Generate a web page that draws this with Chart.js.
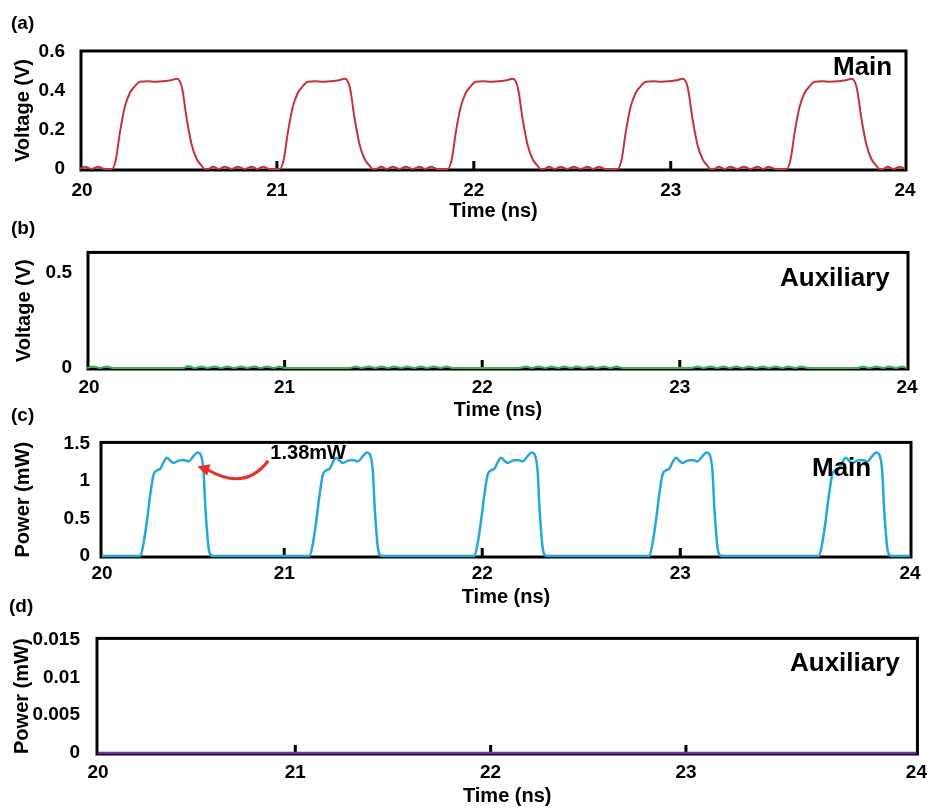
<!DOCTYPE html>
<html>
<head>
<meta charset="utf-8">
<script src="https://cdn.jsdelivr.net/npm/chart.js@4.4.1/dist/chart.umd.min.js"></script>
<style>
  body { margin: 0; background: #fff; }
  #wrap { position: relative; width: 935px; height: 809px; font-family: "Liberation Sans", Arial, sans-serif; }
  canvas { position: absolute; left: 0; }
  .tag { position: absolute; font-weight: bold; line-height: 1; transform: translateY(-50%); white-space: nowrap; color: #000; }
</style>
</head>
<body>
<div id="wrap">
  <canvas id="pa" width="935" height="225" style="top:0px"></canvas>
  <canvas id="pb" width="935" height="197" style="top:225px"></canvas>
  <canvas id="pc" width="935" height="190" style="top:420px"></canvas>
  <canvas id="pd" width="935" height="199" style="top:610px"></canvas>
  <div class="tag" style="left:11px;top:22px;font-size:19px">(a)</div>
  <div class="tag" style="left:11px;top:227px;font-size:19px">(b)</div>
  <div class="tag" style="left:11px;top:414px;font-size:19px">(c)</div>
  <div class="tag" style="left:9px;top:605px;font-size:19px">(d)</div>
  <div class="tag" style="left:833px;top:66px;font-size:26px">Main</div>
  <div class="tag" style="left:780px;top:277px;font-size:26px">Auxiliary</div>
  <div class="tag" style="left:812px;top:467px;font-size:26px">Main</div>
  <div class="tag" style="left:790px;top:662px;font-size:26px">Auxiliary</div>
</div>
<script>
// x axis: end labels sit on the plot edges, marks only on 21..23
const xTickLabels = ["20", "21", "22", "23", "24"];
const xMarkVals = [21, 22, 23];

// (a) main voltage, V
const voltMainT = [
  20.0, 20.025, 20.058, 20.091, 20.125,
  20.162, 20.182, 20.203, 20.228, 20.253, 20.279, 20.304, 20.342, 20.382, 20.422, 20.462, 20.492, 20.517, 20.543, 20.568, 20.593, 20.619, 20.634,
  20.652, 20.675, 20.705, 20.736, 20.769, 20.802, 20.837, 20.872, 20.900, 20.929, 20.962,
  21.015, 21.035, 21.056, 21.081, 21.106, 21.132, 21.157, 21.195, 21.235, 21.275, 21.315, 21.345, 21.370, 21.396, 21.421, 21.446, 21.472, 21.487,
  21.505, 21.528, 21.558, 21.589, 21.622, 21.655, 21.690, 21.725, 21.753, 21.782, 21.815,
  21.868, 21.888, 21.909, 21.934, 21.959, 21.985, 22.010, 22.048, 22.088, 22.128, 22.168, 22.198, 22.223, 22.249, 22.274, 22.299, 22.325, 22.340,
  22.358, 22.381, 22.411, 22.442, 22.475, 22.508, 22.543, 22.578, 22.606, 22.635, 22.668,
  22.731, 22.751, 22.772, 22.797, 22.822, 22.848, 22.873, 22.911, 22.951, 22.991, 23.031, 23.061, 23.086, 23.112, 23.137, 23.162, 23.188, 23.203,
  23.221, 23.244, 23.274, 23.305, 23.338, 23.371, 23.406, 23.441, 23.469, 23.498, 23.531,
  23.589, 23.609, 23.630, 23.655, 23.680, 23.706, 23.731, 23.769, 23.809, 23.849, 23.889, 23.919, 23.944, 23.970, 23.995, 24.020, 24.046, 24.061,
  24.079, 24.102, 24.132, 24.163, 24.190
];
const voltMainV = [
  0, 0.012, 0, 0.012, 0,
  0, 0.05, 0.19, 0.32, 0.39, 0.425, 0.448, 0.45, 0.448, 0.45, 0.455, 0.463, 0.42, 0.25, 0.12, 0.05, 0.015, 0,
  0, 0.012, 0, 0.012, 0, 0.012, 0, 0.012, 0, 0.012, 0,
  0, 0.05, 0.19, 0.32, 0.39, 0.425, 0.448, 0.45, 0.448, 0.45, 0.455, 0.463, 0.42, 0.25, 0.12, 0.05, 0.015, 0,
  0, 0.012, 0, 0.012, 0, 0.012, 0, 0.012, 0, 0.012, 0,
  0, 0.05, 0.19, 0.32, 0.39, 0.425, 0.448, 0.45, 0.448, 0.45, 0.455, 0.463, 0.42, 0.25, 0.12, 0.05, 0.015, 0,
  0, 0.012, 0, 0.012, 0, 0.012, 0, 0.012, 0, 0.012, 0,
  0, 0.05, 0.19, 0.32, 0.39, 0.425, 0.448, 0.45, 0.448, 0.45, 0.455, 0.463, 0.42, 0.25, 0.12, 0.05, 0.015, 0,
  0, 0.012, 0, 0.012, 0, 0.012, 0, 0.012, 0, 0.012, 0,
  0, 0.05, 0.19, 0.32, 0.39, 0.425, 0.448, 0.45, 0.448, 0.45, 0.455, 0.463, 0.42, 0.25, 0.12, 0.05, 0.015, 0,
  0, 0.012, 0, 0.012, 0
];

// (b) auxiliary voltage, V
const voltAuxT = [
  20.0, 20.03, 20.065, 20.1, 20.13,
  20.49, 20.51, 20.545, 20.58, 20.61, 20.645, 20.68, 20.71, 20.745, 20.78, 20.81, 20.845, 20.88, 20.91, 20.945, 20.975, 21.0,
  21.33, 21.36, 21.39, 21.425, 21.46, 21.49, 21.525, 21.555, 21.59, 21.62, 21.655, 21.69, 21.72, 21.755, 21.79, 21.82, 21.85, 21.88,
  22.19, 22.22, 22.25, 22.285, 22.32, 22.35, 22.385, 22.415, 22.45, 22.48, 22.515, 22.55, 22.58, 22.615, 22.65, 22.68, 22.71, 22.74,
  23.06, 23.09, 23.12, 23.155, 23.19, 23.22, 23.255, 23.285, 23.32, 23.35, 23.385, 23.42, 23.45, 23.485, 23.52, 23.55, 23.585, 23.615, 23.65, 23.68,
  23.9, 23.925, 23.96, 23.995, 24.03, 24.06, 24.095, 24.125, 24.15
];
const voltAuxV = [
  0, 0.008, 0, 0.008, 0,
  0, 0.01, 0, 0.008, 0, 0.008, 0, 0.008, 0, 0.008, 0, 0.008, 0, 0.008, 0, 0.008, 0,
  0, 0.008, 0, 0.008, 0, 0.008, 0, 0.008, 0, 0.008, 0, 0.008, 0, 0.008, 0, 0.008, 0, 0,
  0, 0.008, 0, 0.008, 0, 0.008, 0, 0.008, 0, 0.008, 0, 0.008, 0, 0.008, 0, 0.008, 0, 0,
  0, 0.008, 0, 0.008, 0, 0.008, 0, 0.008, 0, 0.008, 0, 0.008, 0, 0.008, 0, 0.008, 0, 0.008, 0, 0,
  0, 0.008, 0, 0.008, 0, 0.008, 0, 0.008, 0
];

// (c) main power, mW
const powMainT = [
  20.08,
  20.273, 20.290, 20.307, 20.324, 20.340, 20.357, 20.374, 20.391, 20.408, 20.425, 20.441, 20.466, 20.492, 20.517, 20.542, 20.562, 20.576, 20.593, 20.601, 20.610, 20.618, 20.630, 20.643,
  21.128, 21.145, 21.162, 21.179, 21.195, 21.212, 21.229, 21.246, 21.263, 21.280, 21.296, 21.321, 21.347, 21.372, 21.397, 21.417, 21.431, 21.448, 21.456, 21.465, 21.473, 21.485, 21.498,
  21.960, 21.977, 21.994, 22.011, 22.027, 22.044, 22.061, 22.078, 22.095, 22.112, 22.128, 22.153, 22.179, 22.204, 22.229, 22.249, 22.263, 22.280, 22.288, 22.297, 22.305, 22.317, 22.330,
  22.843, 22.860, 22.877, 22.894, 22.910, 22.927, 22.944, 22.961, 22.978, 22.995, 23.011, 23.036, 23.062, 23.087, 23.112, 23.132, 23.146, 23.163, 23.171, 23.180, 23.188, 23.200, 23.213,
  23.700, 23.717, 23.734, 23.751, 23.767, 23.784, 23.801, 23.818, 23.835, 23.852, 23.868, 23.893, 23.919, 23.944, 23.969, 23.989, 24.003, 24.020, 24.028, 24.037, 24.045, 24.057, 24.070,
  24.16
];
const powMainV = [
  0,
  0, 0.17, 0.47, 0.82, 1.08, 1.14, 1.16, 1.25, 1.31, 1.27, 1.24, 1.27, 1.28, 1.26, 1.33, 1.38, 1.36, 1.12, 0.69, 0.34, 0.11, 0.01, 0,
  0, 0.17, 0.47, 0.82, 1.08, 1.14, 1.16, 1.25, 1.31, 1.27, 1.24, 1.27, 1.28, 1.26, 1.33, 1.38, 1.36, 1.12, 0.69, 0.34, 0.11, 0.01, 0,
  0, 0.17, 0.47, 0.82, 1.08, 1.14, 1.16, 1.25, 1.31, 1.27, 1.24, 1.27, 1.28, 1.26, 1.33, 1.38, 1.36, 1.12, 0.69, 0.34, 0.11, 0.01, 0,
  0, 0.17, 0.47, 0.82, 1.08, 1.14, 1.16, 1.25, 1.31, 1.27, 1.24, 1.27, 1.28, 1.26, 1.33, 1.38, 1.36, 1.12, 0.69, 0.34, 0.11, 0.01, 0,
  0, 0.17, 0.47, 0.82, 1.08, 1.14, 1.16, 1.25, 1.31, 1.27, 1.24, 1.27, 1.28, 1.26, 1.33, 1.38, 1.36, 1.12, 0.69, 0.34, 0.11, 0.01, 0,
  0
];

// (d) auxiliary power, mW
const powAuxT = [19.99, 21, 22, 23, 24.18];
const powAuxV = [0, 0, 0, 0, 0];

const voltTicksA = [0, 0.2, 0.4, 0.6];
const voltLabelsA = ["0", "0.2", "0.4", "0.6"];
const voltTicksB = [0, 0.5];
const voltLabelsB = ["0", "0.5"];
const powTicksC = [0, 0.5, 1, 1.5];
const powLabelsC = ["0", "0.5", "1", "1.5"];
const powTicksD = [0, 0.005, 0.01, 0.015];
const powLabelsD = ["0", "0.005", "0.01", "0.015"];

Chart.defaults.font.family = '"Liberation Sans", Arial, sans-serif';

const tickFont = { size: 19, weight: "bold" };
const titleFont = { size: 20, weight: "bold" };

// thick black box + small inner tick marks
const frame = {
  id: "frame",
  beforeDatasetsDraw(chart) {
    const { ctx, chartArea: a, scales } = chart;
    ctx.save();
    ctx.strokeStyle = "#000";
    ctx.lineWidth = 3;
    ctx.strokeRect(a.left - 1, a.top - 1, a.right - a.left + 2, a.bottom - a.top + 2);
    ctx.fillStyle = "#000";
    xMarkVals.forEach((v) => {
      const px = scales.x.getPixelForValue(v);
      ctx.fillRect(px - 1.5, a.bottom - 8, 3, 8);
    });
    ctx.restore();
  }
};

// "1.38mW" callout on panel (c)
const peakNote = {
  id: "peakNote",
  afterDatasetsDraw(chart) {
    const { ctx, scales: { x, y } } = chart;
    const p = (a, b) => [x.getPixelForValue(a), y.getPixelForValue(b)];
    const tail = p(20.919, 1.269);
    const ctrl = p(20.803, 0.857);
    const end = p(20.611, 1.153);
    const tip = p(20.561, 1.191);
    ctx.save();
    ctx.strokeStyle = "#e8302a";
    ctx.fillStyle = "#e8302a";
    ctx.lineWidth = 3;
    ctx.beginPath();
    ctx.moveTo(tail[0], tail[1]);
    ctx.quadraticCurveTo(ctrl[0], ctrl[1], end[0], end[1]);
    ctx.stroke();
    const ang = Math.atan2(tip[1] - end[1], tip[0] - end[0]);
    ctx.beginPath();
    ctx.moveTo(tip[0], tip[1]);
    ctx.lineTo(tip[0] - 12 * Math.cos(ang) + 6 * Math.sin(ang), tip[1] - 12 * Math.sin(ang) - 6 * Math.cos(ang));
    ctx.lineTo(tip[0] - 12 * Math.cos(ang) - 6 * Math.sin(ang), tip[1] - 12 * Math.sin(ang) + 6 * Math.cos(ang));
    ctx.closePath();
    ctx.fill();
    const t = p(21.121, 1.37);
    ctx.fillStyle = "#000";
    ctx.font = 'bold 20px "Liberation Sans", Arial, sans-serif';
    ctx.textAlign = "center";
    ctx.textBaseline = "middle";
    ctx.fillText("1.38mW", t[0], t[1]);
    ctx.restore();
  }
};

const panels = [
  { id: "pa", top: 0, h: 225, plot: [82, 52, 905, 169], xr: [20.01, 24.19], yr: [0, 0.6],
    t: voltMainT, v: voltMainV, color: "#c1343a", lw: 2,
    yTicks: voltTicksA, yLabels: voltLabelsA, yTitle: "Voltage (V)",
    xpad: 10, xtpad: 2, ypad: 17, ytpad: 11 },
  { id: "pb", top: 225, h: 197, plot: [89, 252, 907, 368], xr: [20.01, 24.15], yr: [0, 0.6],
    t: voltAuxT, v: voltAuxV, color: "#3daf5a", lw: 2,
    yTicks: voltTicksB, yLabels: voltLabelsB, yTitle: "Voltage (V)",
    xpad: 8, xtpad: 0, ypad: 17, ytpad: 12 },
  { id: "pc", top: 420, h: 190, plot: [102, 440, 910, 556], xr: [20.08, 24.16], yr: [0, 1.5],
    t: powMainT, v: powMainV, color: "#27a6dc", lw: 2.5,
    yTicks: powTicksC, yLabels: powLabelsC, yTitle: "Power (mW)",
    xpad: 6, xtpad: 1, ypad: 12, ytpad: 11, extra: [peakNote] },
  { id: "pd", top: 610, h: 199, plot: [98, 634, 922, 753], xr: [19.99, 24.18], yr: [0, 0.015],
    t: powAuxT, v: powAuxV, color: "#7030a0", lw: 2.5,
    yTicks: powTicksD, yLabels: powLabelsD, yTitle: "Power (mW)",
    xpad: 8, xtpad: 1, ypad: 18, ytpad: 10 }
];

const makeChart = (p) => {
  const [L, T, R, B] = p.plot;
  return new Chart(document.getElementById(p.id), {
    type: "line",
    data: {
      datasets: [{
        data: p.t.map((t, i) => ({ x: t, y: p.v[i] })),
        borderColor: p.color,
        borderWidth: p.lw,
        pointRadius: 0,
        cubicInterpolationMode: "monotone",
        fill: false,
        clip: false
      }]
    },
    options: {
      responsive: false,
      animation: false,
      devicePixelRatio: 1,
      layout: { padding: { left: 0, top: T - p.top, right: 935 - R, bottom: 0 } },
      plugins: { legend: { display: false }, tooltip: { enabled: false } },
      scales: {
        x: {
          type: "linear",
          min: p.xr[0],
          max: p.xr[1],
          grid: { display: false, drawTicks: false },
          border: { display: false },
          afterBuildTicks: (ax) => {
            ax.ticks = [ax.min, ...xMarkVals, ax.max].map((v) => ({ value: v }));
          },
          afterFit: (ax) => { ax.height = p.top + p.h - B; },
          ticks: {
            autoSkip: false, maxRotation: 0, padding: p.xpad, color: "#000", font: tickFont,
            callback: (v, i) => xTickLabels[i]
          },
          title: { display: true, text: "Time (ns)", color: "#000", font: titleFont, padding: { top: 0, bottom: p.xtpad } }
        },
        y: {
          min: p.yr[0],
          max: p.yr[1],
          grid: { display: false, drawTicks: false },
          border: { display: false },
          afterBuildTicks: (ax) => {
            ax.ticks = p.yTicks.map((v) => ({ value: v }));
          },
          afterFit: (ax) => { ax.width = L; },
          ticks: {
            autoSkip: false, padding: p.ypad, color: "#000", font: tickFont,
            callback: (v, i) => p.yLabels[i]
          },
          title: { display: true, text: p.yTitle, color: "#000", font: titleFont, padding: { top: p.ytpad, bottom: 0 } }
        }
      }
    },
    plugins: [frame].concat(p.extra || [])
  });
};

panels.forEach(makeChart);
</script>
</body>
</html>
